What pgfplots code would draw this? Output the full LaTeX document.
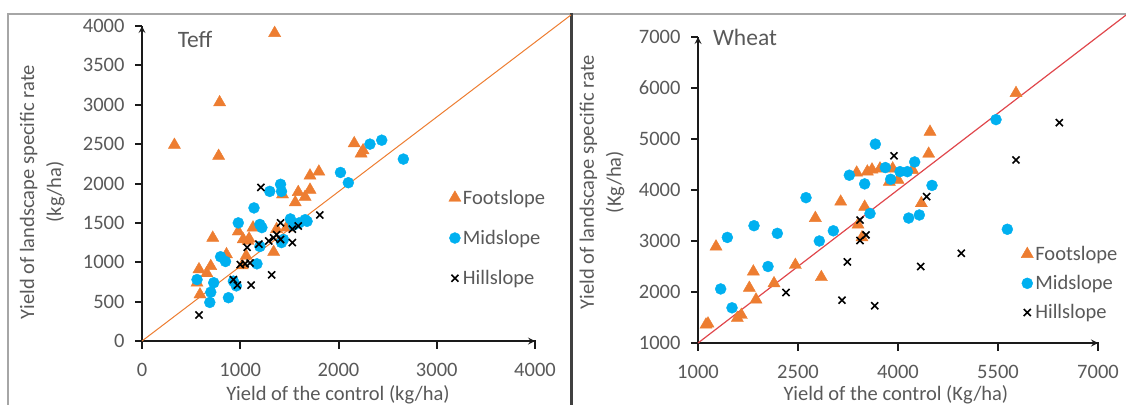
\documentclass[border=0pt]{standalone}
\usepackage{fontspec}
\setmainfont{Carlito}
\usepackage{pgfplots}
\pgfplotsset{compat=1.18}
\definecolor{foot}{HTML}{ED7D31}
\definecolor{mid}{HTML}{00B0F0}
\definecolor{txt}{HTML}{595959}
\definecolor{wline}{HTML}{E0474C}
\definecolor{axc}{HTML}{1A1A1A}
\pgfplotsset{
  mk/.style={only marks, legend image code/.code={\draw[mark repeat=2,mark phase=2,##1] plot coordinates {(0pt,0pt) (9pt,0pt) (18pt,0pt)};}},
  myax/.style={scale only axis, axis x line=bottom, axis y line=left, axis line style={draw=axc, line width=2pt},
    tick align=outside, major tick length=7pt, tick style={draw=axc, line width=2pt},
    ticklabel style={font=\fontsize{20.5}{23}\selectfont, text=txt},
    xticklabel style={yshift=-12pt},
    yticklabel style={xshift=-7pt},
    /pgf/number format/assume math mode=true,
    /pgf/number format/1000 sep={},
    clip=false,
    legend style={draw=none, fill=none, font=\fontsize{20.5}{23}\selectfont, text=txt, legend cell align=left}},
  pfoot/.style={mk, mark=triangle*, mark size=7pt, color=foot},
  pmid/.style={mk, mark=*, mark size=5.5pt, color=mid},
  phill/.style={mk, mark=x, mark size=5pt, color=black, line width=1.6pt},
}
\begin{document}
\begin{tikzpicture}
\useasboundingbox (0pt,0pt) rectangle (1126pt,405pt);
\fill[black!35] (7pt,0pt) rectangle (9pt,391.5pt);
\fill[black!35] (7pt,389.5pt) rectangle (1126pt,391.5pt);
\fill[black!75] (569.5pt,0pt) rectangle (572.5pt,391.5pt);
% axis lines and ticks of the Teff panel (axis box 142..535 x 64..379)
\fill[axc] (141pt,63pt) rectangle (143pt,379pt);
\fill[axc] (141pt,63pt) rectangle (536pt,65pt);
\foreach \t in {0,1,2,3,4} {\fill[axc] ({142pt+98.25pt*\t-1pt},64pt) rectangle ++(2pt,-7.5pt);}
\foreach \t in {0,...,8} {\fill[axc] (142pt,{64pt+39.375pt*\t-1pt}) rectangle ++(-7.5pt,2pt);}
% axis lines and ticks of the Wheat panel (axis box 698..1098 x 62..368)
\fill[axc] (697pt,61pt) rectangle (699pt,368pt);
\fill[axc] (697pt,61pt) rectangle (1099pt,63pt);
\foreach \t in {0,1,2,3,4} {\fill[axc] ({698pt+100pt*\t-1pt},62pt) rectangle ++(2pt,-7.5pt);}
\foreach \t in {0,...,6} {\fill[axc] (698pt,{62pt+51pt*\t-1pt}) rectangle ++(-7.5pt,2pt);}

\begin{axis}[myax, at={(142pt,64pt)}, anchor=south west, width=393pt, height=315pt,
  xmin=0, xmax=4000, ymin=0, ymax=4000,
  xtick={0,1000,2000,3000,4000}, ytick={0,500,...,4000},
  xlabel={Yield of the control (kg/ha)},
  ylabel={Yield of landscape specific rate\\(kg/ha)},
  every axis x label/.style={at={(axis description cs:0.499,-0.171)}, anchor=center, font=\fontsize{20.5}{27}\selectfont, text=txt},
  every axis y label/.style={at={(axis description cs:-0.254,0.473)}, anchor=center, rotate=90, align=center, font=\fontsize{20.5}{27}\selectfont, text=txt},
  legend style={at={(axis description cs:0.7726,0.493)}, anchor=north west, row sep=20.5pt}]
\addplot[color=foot, line width=1pt, forget plot] coordinates {(0,0) (4366,4140)};
\addplot[pfoot] coordinates {(330,2490) (1350,3910) (790,3030) (780,2350) (2160,2510) (2230,2380) (2250,2420)
 (1710,2100) (1800,2150) (1710,1920) (1660,1830) (1590,1890) (1560,1760) (1430,1860) (720,1310) (980,1390)
 (1130,1440) (1030,1290) (1080,1270) (1340,1130) (860,1100) (580,910) (700,950) (660,860) (560,740) (590,590)
 (1020,960) (1060,1080) (1370,1420) (1470,1440) (1090,1300)};
\addlegendentry{Footslope}
\addplot[pmid] coordinates {(2320,2500) (2440,2550) (2660,2310) (2020,2140) (2100,2010) (1410,1990) (1420,1900)
 (1300,1900) (1140,1690) (980,1500) (1200,1480) (1220,1440) (1510,1550) (1660,1540) (1600,1500) (1420,1250)
 (1440,1290) (1200,1200) (800,1070) (850,1010) (1170,980) (560,780) (730,740) (700,620) (690,490) (880,550)
 (930,760) (960,700) (1540,1470) (1680,1520)};
\addlegendentry{Midslope}
\addplot[phill] coordinates {(580,330) (1210,1950) (1810,1600) (1410,1500) (1070,1190) (1190,1230) (1340,1310)
 (1290,1270) (1410,1290) (1530,1250) (1530,1420) (1590,1460) (1050,980) (1100,990) (930,780) (970,710)
 (1110,710) (1320,840) (1000,970) (1370,1350)};
\addlegendentry{Hillslope}
\node[font=\fontsize{23.5}{26}\selectfont, text=txt] at (rel axis cs:0.135,0.956) {Teff};
\end{axis}

\begin{axis}[myax, at={(698pt,62pt)}, anchor=south west, width=400pt, height=306pt,
  xmin=1000, xmax=7000, ymin=1000, ymax=7000,
  xtick={1000,2500,4000,5500,7000}, ytick={1000,2000,...,7000},
  xlabel={Yield of the control (Kg/ha)},
  ylabel={Yield of landscape specific rate\\(Kg/ha)},
  every axis x label/.style={at={(axis description cs:0.495,-0.17)}, anchor=center, font=\fontsize{20.5}{27}\selectfont, text=txt},
  every axis y label/.style={at={(axis description cs:-0.24,0.526)}, anchor=center, rotate=90, align=center, font=\fontsize{20.5}{27}\selectfont, text=txt},
  legend style={at={(axis description cs:0.80,0.33)}, anchor=north west, row sep=9.5pt}]
\addplot[color=wline, line width=1.2pt, forget plot] coordinates {(1000,1000) (7420,7430)};
\addplot[pfoot] coordinates {(1120,1360) (1150,1380) (1270,2890) (1590,1490) (1650,1550) (1770,2080) (1830,2400)
 (1870,1850) (2140,2170) (2460,2530) (2760,3450) (2850,2290) (3140,3770) (3380,4340) (3400,3320) (3460,3070)
 (3500,3670) (3540,4360) (3610,4400) (3730,4420) (3870,4160) (3920,4420) (4000,4200) (4220,4390) (4350,3740)
 (4460,4710) (4480,5140) (5770,5900)};
\addlegendentry{Footslope}
\addplot[pmid] coordinates {(1340,2060) (1440,3070) (1510,1690) (1840,3300) (2050,2500) (2190,3150) (2620,3850)
 (2820,3000) (3030,3200) (3270,4290) (3500,4120) (3580,3540) (3660,4900) (3810,4440) (3890,4210) (4030,4360)
 (4140,4360) (4250,4550) (4160,3450) (4320,3510) (4510,4090) (5470,5380) (5640,3230)};
\addlegendentry{Midslope}
\addplot[phill] coordinates {(2320,1990) (3160,1840) (3240,2590) (3430,3410) (3430,3010) (3520,3120) (3650,1730)
 (3940,4670) (4340,2500) (4430,3870) (4950,2760) (5770,4590) (6420,5320)};
\addlegendentry{Hillslope}
\node[font=\fontsize{23.5}{26}\selectfont, text=txt] at (rel axis cs:0.1175,0.997) {Wheat};
\end{axis}
\end{tikzpicture}
\end{document}
